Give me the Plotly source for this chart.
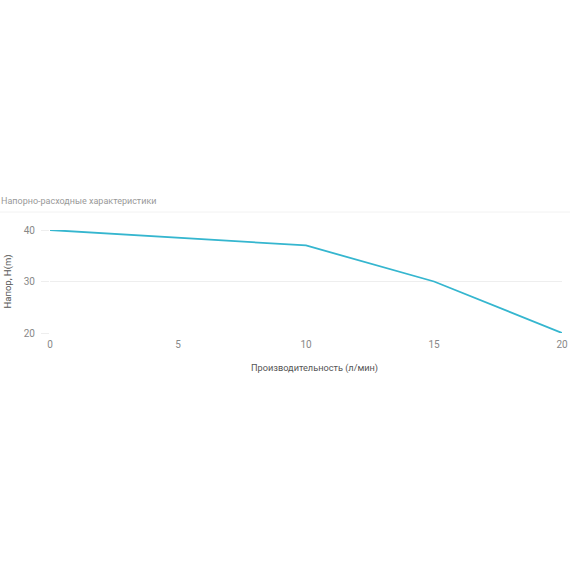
import plotly.graph_objects as go

flow = [0, 5, 10, 15, 20]
head = [40, 38.5, 37, 30, 20]
x_ticks = [0, 5, 10, 15, 20]
y_ticks = [20, 30, 40]

title_text = "Напорно-расходные характеристики"
x_title = "Производительность (л/мин)"
y_title = "Напор, H(m)"

fig = go.Figure()
fig.add_trace(go.Scatter(x=flow, y=head, mode="lines",
                         line=dict(color="#35b6cf", width=1.8),
                         hoverinfo="x+y", showlegend=False))

fig.update_layout(
    width=570, height=570,
    margin=dict(l=50, r=8, t=230, b=237),
    paper_bgcolor="white", plot_bgcolor="white",
    font=dict(family="Roboto, sans-serif", size=10, color="#888888"),
    xaxis=dict(range=[0, 20], tickvals=x_ticks, showgrid=False, zeroline=False,
               showline=False, ticks="", ticklabelstandoff=4, automargin=False,
               tickfont=dict(size=10, color="#888888")),
    yaxis=dict(range=[20, 40], tickvals=y_ticks, showgrid=True, gridcolor="#eeeeee",
               gridwidth=1, zeroline=False, showline=False, ticks="outside", ticklen=8,
               tickcolor="#eeeeee", ticklabelstandoff=4, automargin=False,
               tickfont=dict(size=10, color="#888888"),
               title=dict(text=y_title, font=dict(size=9.5, color="#555555"), standoff=10)),
    annotations=[
        dict(text=title_text, xref="paper", yref="paper", x=-51/512, y=1 + 29/103,
             xanchor="left", yanchor="middle", showarrow=False,
             font=dict(size=9, color="#999999")),
        dict(text=x_title, xref="paper", yref="paper", x=(314 - 50)/512, y=-(368 - 333)/103,
             xanchor="center", yanchor="middle", showarrow=False,
             font=dict(size=9.2, color="#555555")),
    ],
    shapes=[dict(type="line", xref="paper", yref="paper", x0=-50/512, x1=1 + 8/512,
                 y0=1 + 18/103, y1=1 + 18/103, line=dict(color="#f2f2f2", width=1))],
)

fig.write_html("out.html", config={"displayModeBar": False},
               post_script="document.body.style.margin='0';")
